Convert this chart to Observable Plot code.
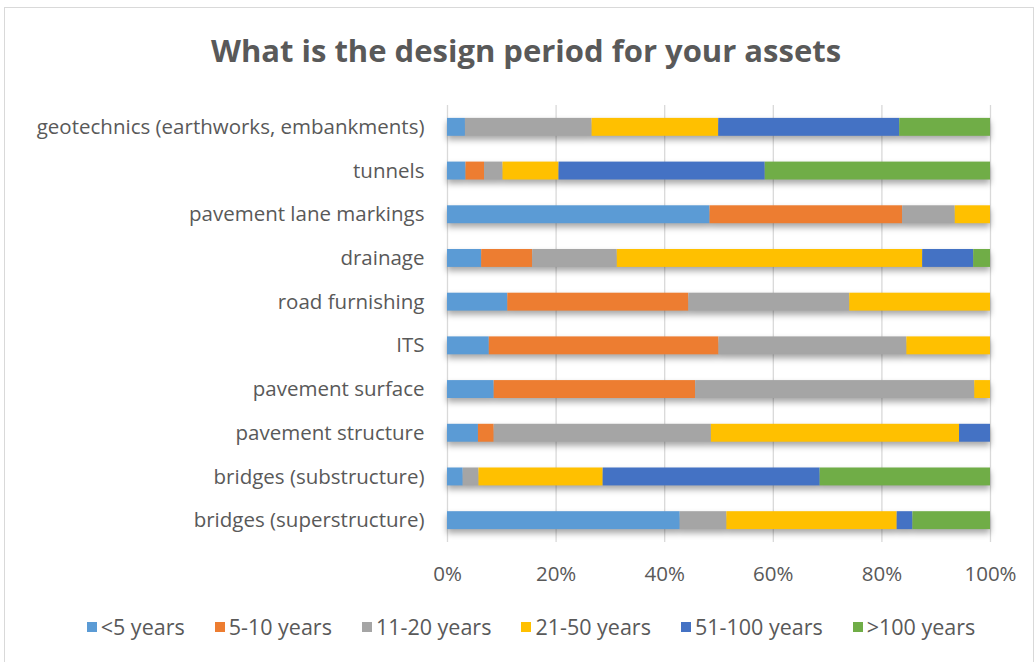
<!DOCTYPE html>
<html>
<head>
<meta charset="utf-8">
<script src="https://cdn.jsdelivr.net/npm/d3@7"></script>
<script src="https://cdn.jsdelivr.net/npm/@observablehq/plot@0.6"></script>
<style>
  html, body { margin: 0; padding: 0; background: #fff; }
  body { width: 1036px; height: 662px; position: relative; overflow: hidden; font-family: "Open Sans", sans-serif; }
  #frame { position: absolute; left: 4px; top: 7px; width: 1030px; height: 660px; border: 1px solid #d9d9d9; box-sizing: border-box; }
  #title { position: absolute; left: 8px; width: 1036px; top: 29px; text-align: center; font-size: 31px; font-weight: bold; color: #595959; }
  #chart { position: absolute; left: 0; top: 80px; }
  #legend { position: absolute; left: 13px; top: 612px; width: 1036px; display: flex; justify-content: center; }
  .lg-swatches { font-family: "Open Sans", sans-serif !important; font-size: 21.5px !important; color: #595959; min-height: 0 !important; margin: 0 !important; }
  .lg-swatch { margin-right: 30px !important; }
  .lg-swatch:last-child { margin-right: 0 !important; }
  .lg-swatch svg { margin-right: 4px !important; }
</style>
</head>
<body>
<div id="frame"></div>
<div id="title">What is the design period for your assets</div>
<div id="chart"></div>
<div id="legend"></div>
<script>
const categories = [
  "geotechnics (earthworks, embankments)",
  "tunnels",
  "pavement lane markings",
  "drainage",
  "road furnishing",
  "ITS",
  "pavement surface",
  "pavement structure",
  "bridges (substructure)",
  "bridges (superstructure)"
];
const seriesNames = ["<5 years", "5-10 years", "11-20 years", "21-50 years", "51-100 years", ">100 years"];
const seriesColors = ["#5B9BD5", "#ED7D31", "#A5A5A5", "#FFC000", "#4472C4", "#70AD47"];
// percent of respondents, same order as categories
const lt5     = [3.3, 3.4, 48.4, 6.3, 11.1, 7.7, 8.6, 5.7, 2.9, 42.9];
const y5to10  = [0.0, 3.4, 35.5, 9.4, 33.3, 42.3, 37.1, 2.9, 0.0, 0.0];
const y11to20 = [23.3, 3.4, 9.7, 15.6, 29.6, 34.6, 51.4, 40.0, 2.9, 8.6];
const y21to50 = [23.3, 10.3, 6.5, 56.3, 25.9, 15.4, 2.9, 45.7, 22.9, 31.4];
const y51to100= [33.3, 37.9, 0.0, 9.4, 0.0, 0.0, 0.0, 5.7, 40.0, 2.9];
const gt100   = [16.7, 41.4, 0.0, 3.1, 0.0, 0.0, 0.0, 0.0, 31.4, 14.3];
const xTicks = [0, 0.2, 0.4, 0.6, 0.8, 1];

const seriesValues = [lt5, y5to10, y11to20, y21to50, y51to100, gt100];
const data = [];
seriesNames.forEach((s, si) => {
  categories.forEach((c, ci) => {
    data.push({category: c, series: s, value: seriesValues[si][ci]});
  });
});

const plot = Plot.plot({
  width: 1036,
  height: 520,
  marginLeft: 447,
  marginRight: 46,
  marginTop: 25,
  marginBottom: 58,
  style: {fontFamily: "'Open Sans', sans-serif", fontSize: "20.5px", color: "#595959", background: "transparent"},
  x: {domain: [0, 1], ticks: xTicks, tickFormat: d3.format(".0%"), label: null},
  y: {domain: categories, paddingInner: 0.59, paddingOuter: 0.295, round: false, label: null},
  color: {domain: seriesNames, range: seriesColors},
  marks: [
    Plot.gridX(xTicks, {stroke: "#d9d9d9", strokeOpacity: 1, strokeWidth: 1.3}),
    Plot.barX(data, Plot.stackX({
      x: "value", y: "category", fill: "series", order: seriesNames, offset: "normalize"
    })),
    Plot.axisX({ticks: xTicks, tickFormat: d3.format(".0%"), tickSize: 0, tickPadding: 24, label: null, fill: "#595959"}),
    Plot.axisY({tickSize: 0, tickPadding: 23, label: null, fill: "#595959"})
  ]
});
document.getElementById("chart").appendChild(plot);
d3.select(plot).selectAll('g[aria-label="bar"]').style("filter", "drop-shadow(0px 4px 3px rgba(0,0,0,0.35))");

const legend = Plot.legend({
  color: {domain: seriesNames, range: seriesColors},
  swatchSize: 10,
  className: "lg"
});
document.getElementById("legend").appendChild(legend);
</script>
</body>
</html>
